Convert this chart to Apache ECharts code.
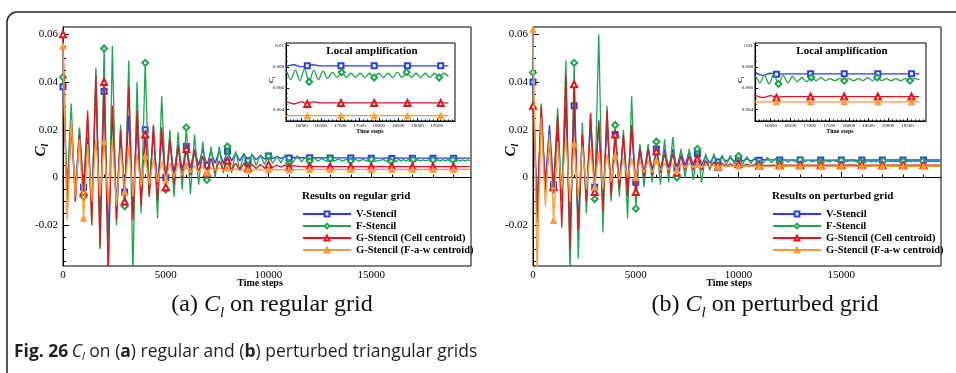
<!DOCTYPE html>
<html><head><meta charset="utf-8">
<script src="https://cdn.jsdelivr.net/npm/echarts@6/dist/echarts.min.js"></script>
<style>html,body{margin:0;padding:0;background:#fff}#c{width:956px;height:373px}</style>
</head><body><div id="c"></div>
<script>
// ---------- DATA ----------
const NAMES = ['V-Stencil', 'F-Stencil', 'G-Stencil (Cell centroid)', 'G-Stencil (F-a-w centroid)'];
// shared time steps of the oscillating start
const EARLY_T = [0,200,400,600,800,1000,1200,1400,1600,1800,2000,2200,2400,2600,2800,3000,3200,3400,3600,3800,4000,4200,4400,4600,4800,5000,5200,5400,5600,5800,6000,6200,6400,6600,6800,7000,7200,7400,7600,7800,8000,8200,8400,8600,8800,9000,9200,9400,9600,9800,10000,10200,10400,10600,10800,11000];
// regular grid (a)
const A_V_EARLY  = [0.038,-0.006,0.021,-0.005,0.020,-0.004,0.017,-0.012,0.040,-0.020,0.036,-0.025,0.030,-0.012,0.018,-0.006,0.026,-0.014,0.022,-0.008,0.020,-0.004,0.018,-0.003,0.017,0.000,0.015,0.002,0.014,0.003,0.013,0.004,0.012,0.005,0.012,0.005,0.011,0.006,0.011,0.006,0.011,0.007,0.010,0.007,0.010,0.007,0.0095,0.0075,0.0093,0.0078,0.0090,0.0080,0.0088,0.0080,0.0086,0.0082];
const A_F_EARLY  = [0.042,-0.004,0.031,-0.010,0.021,-0.008,0.025,-0.018,0.046,-0.030,0.054,-0.040,0.055,-0.020,0.022,-0.012,0.049,-0.040,0.040,-0.015,0.048,-0.008,0.022,-0.017,0.034,-0.005,0.020,-0.008,0.019,-0.005,0.021,-0.007,0.018,-0.003,0.015,-0.001,0.013,0.000,0.013,0.002,0.013,0.002,0.011,0.003,0.010,0.005,0.010,0.005,0.0095,0.0055,0.0090,0.0060,0.0090,0.0062,0.0095,0.0060];
const A_GC_EARLY = [0.060,-0.015,0.023,-0.010,0.018,-0.006,0.028,-0.020,0.043,-0.029,0.040,-0.040,0.030,-0.018,0.020,-0.010,0.038,-0.018,0.028,-0.012,0.018,-0.008,0.022,-0.010,0.021,-0.004,0.016,-0.003,0.013,0.000,0.012,0.001,0.011,0.002,0.009,0.002,0.008,0.002,0.007,0.003,0.007,0.003,0.006,0.003,0.006,0.004,0.0055,0.0038,0.0055,0.0040,0.0054,0.0042,0.0052,0.0043,0.0052,0.0044];
const A_GF_EARLY = [0.055,-0.018,0.024,-0.008,0.016,-0.017,0.014,-0.010,0.016,-0.008,0.015,-0.010,0.016,-0.012,0.012,-0.006,0.013,-0.008,0.010,-0.004,0.009,-0.003,0.008,-0.002,0.007,-0.001,0.006,0.000,0.006,0.001,0.005,0.002,0.005,0.002,0.005,0.002,0.004,0.003,0.004,0.003,0.004,0.003,0.0035,0.003,0.0034,0.0031,0.0033,0.0031,0.0033,0.0032,0.0033,0.0032,0.0033,0.0032,0.0032,0.0032];
// perturbed grid (b)
const B_V_EARLY  = [0.040,-0.012,0.026,-0.002,0.022,-0.003,0.019,-0.006,0.030,-0.025,0.030,-0.020,0.018,-0.008,0.022,-0.004,0.024,-0.010,0.022,-0.005,0.018,-0.002,0.017,-0.003,0.020,-0.002,0.013,0.002,0.013,0.003,0.012,0.003,0.012,0.004,0.012,0.004,0.011,0.005,0.011,0.005,0.010,0.005,0.009,0.006,0.009,0.0065,0.0085,0.0068,0.0082,0.0068,0.0080,0.0070,0.0078,0.0070,0.0077,0.0072];
const B_F_EARLY  = [0.044,-0.019,0.031,-0.006,0.016,-0.005,0.029,-0.010,0.049,-0.040,0.048,-0.034,0.023,-0.015,0.027,-0.009,0.060,-0.023,0.030,-0.010,0.022,-0.008,0.020,-0.017,0.034,-0.013,0.014,-0.004,0.014,-0.002,0.015,-0.003,0.016,-0.002,0.017,0.000,0.012,0.000,0.012,-0.001,0.012,-0.002,0.010,0.003,0.010,0.005,0.0095,0.005,0.0093,0.0055,0.009,0.0055,0.0088,0.0058,0.0085,0.0058];
const B_GC_EARLY = [0.030,-0.015,0.030,-0.005,0.014,-0.004,0.026,-0.021,0.043,-0.030,0.039,-0.022,0.018,-0.010,0.027,-0.006,0.023,-0.014,0.028,-0.008,0.018,-0.005,0.018,-0.008,0.022,-0.006,0.012,0.000,0.012,0.001,0.011,0.002,0.010,0.002,0.010,0.002,0.009,0.003,0.009,0.003,0.008,0.003,0.007,0.004,0.0065,0.0045,0.006,0.0045,0.0058,0.0046,0.0057,0.0047,0.0056,0.0048,0.0055,0.0049];
const B_GF_EARLY = [0.062,-0.040,0.025,-0.012,0.018,-0.018,0.015,-0.005,0.017,-0.010,0.014,-0.008,0.013,-0.005,0.012,-0.004,0.011,-0.005,0.010,-0.002,0.009,-0.001,0.008,0.000,0.008,0.000,0.007,0.002,0.007,0.002,0.007,0.003,0.006,0.003,0.006,0.003,0.006,0.004,0.006,0.004,0.0055,0.004,0.0052,0.0045,0.005,0.0045,0.0049,0.0046,0.0048,0.0046,0.0048,0.0047,0.0048,0.0047,0.0047,0.0047];
// late, nearly converged part (V and G stencils)
const LATE_T = [11200,11600,12000,13000,14000,15000,15600,15800,16000,16150,16300,16500,17000,17020,17880,18000,18740,19000,19600,19800];
const A_V_LATE  = [0.0084,0.0083,0.0083,0.0082,0.0082,0.0081,0.0081,0.0082,0.0080,0.0081,0.0082,0.0081,0.0081,0.0081,0.0081,0.0081,0.0081,0.0081,0.0081,0.0081];
const A_GC_LATE = [0.0050,0.0046,0.0047,0.0046,0.0046,0.0046,0.0047,0.0045,0.0047,0.0045,0.0047,0.0046,0.0046,0.0046,0.0046,0.0046,0.0046,0.0046,0.0046,0.0046];
const A_GF_LATE = [0.0033,0.0033,0.0034,0.0034,0.0034,0.0034,0.0034,0.0034,0.0034,0.0034,0.0034,0.0034,0.0034,0.0034,0.0034,0.0034,0.0034,0.0034,0.0034,0.0034];
const B_V_LATE  = [0.0075,0.0074,0.0074,0.0073,0.0073,0.0073,0.0074,0.0072,0.0074,0.0073,0.00735,0.00735,0.00735,0.00735,0.00735,0.00735,0.00735,0.00735,0.00735,0.00735];
const B_GC_LATE = [0.0050,0.0051,0.0052,0.0052,0.0052,0.0052,0.0053,0.0051,0.0053,0.0051,0.0052,0.0052,0.0052,0.0052,0.0052,0.0052,0.0052,0.0052,0.0052,0.0052];
const B_GF_LATE = [0.0047,0.0047,0.0047,0.0047,0.0047,0.0047,0.0047,0.0047,0.0047,0.0047,0.0047,0.0047,0.0047,0.0047,0.0047,0.0047,0.0047,0.0047,0.0047,0.0047];
// late part of F-Stencil (keeps a small oscillation)
const F_TAIL_T = [11200,11400,11600,11800,12000,12200,12400,12600,12800,13000,13200,13400,13600,13800,14000,14200,14400,14600,14800,15000,15200,15400,
  15600,15720,15840,15960,16080,16200,16320,16440,16560,16680,16800,16920,17040,17160,17280,17400,17520,17640,17760,17880,18000,18120,18240,18360,18480,18600,18720,18840,18960,19080,19200,19320,19440,19560,19680,19800];
const A_F_TAIL = [0.0065,0.0092,0.0066,0.0085,0.0068,0.0082,0.0068,0.0080,0.0068,0.0079,0.0069,0.0078,0.0069,0.0077,0.0069,0.0077,0.0069,0.0076,0.0069,0.0076,0.0069,0.0072,
  0.0075,0.0068,0.0077,0.0067,0.0078,0.0066,0.0077,0.0068,0.0076,0.0069,0.0075,0.0070,0.0075,0.0070,0.0074,0.0070,0.0074,0.0070,0.0074,0.0070,0.0074,0.0070,0.0074,0.0070,0.0075,0.0070,0.0075,0.0070,0.0074,0.0070,0.0074,0.0070,0.0074,0.0070,0.0074,0.0071];
const B_F_TAIL = [0.0060,0.0085,0.0062,0.0080,0.0063,0.0077,0.0064,0.0075,0.0064,0.0074,0.0065,0.0073,0.0065,0.0073,0.0065,0.0072,0.0066,0.0072,0.0066,0.0072,0.0066,0.0069,
  0.0071,0.0065,0.0072,0.0064,0.0073,0.0064,0.0072,0.0065,0.0071,0.0066,0.0070,0.0066,0.0070,0.0067,0.0070,0.0067,0.0069,0.0067,0.0069,0.0067,0.0069,0.0067,0.0069,0.0067,0.0070,0.0067,0.0070,0.0067,0.0069,0.0067,0.0069,0.0067,0.0069,0.0067,0.0069,0.0068];
// marker positions (time steps)
const MAIN_MARK_T  = [0,1000,2000,3000,4000,5000,6000,7000,8000,9000,10000,11000,12000,13000,14000,15000,16000,17000,18000,19000];
const INSET_MARK_T = [16150,17020,17880,18740,19600];
// ticks
const MAIN_X_TICKS = [0,5000,10000,15000];
const MAIN_X_MINOR = [1000,2000,3000,4000,6000,7000,8000,9000,11000,12000,13000,14000,16000,17000,18000,19000];
const MAIN_Y_TICKS = [-0.02,0,0.02,0.04,0.06];
const MAIN_Y_MINOR = [-0.035,-0.03,-0.025,-0.015,-0.01,-0.005,0.005,0.01,0.015,0.025,0.03,0.035,0.045,0.05,0.055];
const INSET_X_TICKS = [16000,16500,17000,17500,18000,18500,19000,19500];
const INSET_X_MINOR = [15700,15800,15900,16100,16200,16300,16400,16600,16700,16800,16900,17100,17200,17300,17400,17600,17700,17800,17900,18100,18200,18300,18400,18600,18700,18800,18900,19100,19200,19300,19400,19600,19700,19800,19900];
const INSET_Y_TICKS = [0.004,0.006,0.008,0.01];
const INSET_Y_MINOR = [0.0035,0.0045,0.005,0.0055,0.0065,0.007,0.0075,0.0085,0.009,0.0095];

// ---------- STYLE ----------
const COLORS = ['#2a3cf2','#1fa550','#e0141c','#ff9a3a'];
const SYMBOLS = ['emptyRect','emptyDiamond','emptyTriangle','triangle'];
const SYM_SIZE = [5,6,6,6];
const SERIF = 'Liberation Serif';

function nearestSet(ts, marks){
  const s = new Set();
  marks.forEach(m => { let bi=-1, bd=Infinity; ts.forEach((t,i)=>{const d=Math.abs(t-m); if(d<bd){bd=d;bi=i;}}); if(bd<=150) s.add(bi); });
  return s;
}
function build(ts, vs, marks){
  const s = nearestSet(ts, marks);
  return ts.map((t,i)=> s.has(i) ? {value:[t,vs[i]]} : {value:[t,vs[i]], symbol:'none'});
}
const PLOTS = [
  {ts:[EARLY_T.concat(LATE_T), EARLY_T.concat(F_TAIL_T), EARLY_T.concat(LATE_T), EARLY_T.concat(LATE_T)],
   vs:[A_V_EARLY.concat(A_V_LATE), A_F_EARLY.concat(A_F_TAIL), A_GC_EARLY.concat(A_GC_LATE), A_GF_EARLY.concat(A_GF_LATE)]},
  {ts:[EARLY_T.concat(LATE_T), EARLY_T.concat(F_TAIL_T), EARLY_T.concat(LATE_T), EARLY_T.concat(LATE_T)],
   vs:[B_V_EARLY.concat(B_V_LATE), B_F_EARLY.concat(B_F_TAIL), B_GC_EARLY.concat(B_GC_LATE), B_GF_EARLY.concat(B_GF_LATE)]}
];

const fmt = v => v === 0 ? '0' : String(+(+v).toFixed(4));
const fmtX = v => String(Math.round(v));
function mainAxes(grid){
  return {
    x: [{type:'value', gridIndex:grid, position:'bottom', min:0, max:19850,
          axisLine:{show:true, lineStyle:{color:'#000', width:1}}, splitLine:{show:false},
          axisTick:{show:true, inside:true, length:6, customValues:MAIN_X_TICKS, lineStyle:{color:'#000'}},
          axisLabel:{customValues:MAIN_X_TICKS, formatter:fmtX, fontFamily:SERIF, fontSize:11, color:'#000', margin:4}},
        {type:'value', gridIndex:grid, position:'bottom', min:0, max:19850, axisLine:{show:false}, splitLine:{show:false},
          axisTick:{show:true, inside:true, length:3, customValues:MAIN_X_MINOR, lineStyle:{color:'#000'}}, axisLabel:{show:false}}],
    y: [{type:'value', gridIndex:grid, position:'left', min:-0.037, max:0.063,
          axisLine:{show:true, lineStyle:{color:'#000', width:1}}, splitLine:{show:false},
          axisTick:{show:true, inside:true, length:6, customValues:MAIN_Y_TICKS, lineStyle:{color:'#000'}},
          axisLabel:{customValues:MAIN_Y_TICKS, formatter:fmt, fontFamily:SERIF, fontSize:11, color:'#000', margin:5}},
        {type:'value', gridIndex:grid, position:'left', min:-0.037, max:0.063, axisLine:{show:false}, splitLine:{show:false},
          axisTick:{show:true, inside:true, length:3, customValues:MAIN_Y_MINOR, lineStyle:{color:'#000'}}, axisLabel:{show:false}}]
  };
}
function insetAxes(grid){
  return {
    x: [{type:'value', gridIndex:grid, position:'bottom', min:15600, max:19970,
          axisLine:{show:true, lineStyle:{color:'#000', width:1}}, splitLine:{show:false},
          axisTick:{show:true, inside:true, length:3, customValues:INSET_X_TICKS, lineStyle:{color:'#000'}},
          axisLabel:{customValues:INSET_X_TICKS, formatter:fmtX, fontFamily:SERIF, fontSize:5, color:'#000', margin:2}},
        {type:'value', gridIndex:grid, position:'bottom', min:15600, max:19970, axisLine:{show:false}, splitLine:{show:false},
          axisTick:{show:true, inside:true, length:1.5, customValues:INSET_X_MINOR, lineStyle:{color:'#000'}}, axisLabel:{show:false}}],
    y: [{type:'value', gridIndex:grid, position:'left', min:0.0029, max:0.01025,
          axisLine:{show:true, lineStyle:{color:'#000', width:1}}, splitLine:{show:false},
          axisTick:{show:true, inside:true, length:3, customValues:INSET_Y_TICKS, lineStyle:{color:'#000'}},
          axisLabel:{customValues:INSET_Y_TICKS, formatter:fmt, fontFamily:SERIF, fontSize:5, color:'#000', margin:2}},
        {type:'value', gridIndex:grid, position:'left', min:0.0029, max:0.01025, axisLine:{show:false}, splitLine:{show:false},
          axisTick:{show:true, inside:true, length:1.5, customValues:INSET_Y_MINOR, lineStyle:{color:'#000'}}, axisLabel:{show:false}}]
  };
}
const axesList = [mainAxes(0), mainAxes(1), insetAxes(2), insetAxes(3)];
const xAxis = [], yAxis = [];
axesList.forEach(a => { xAxis.push(...a.x); yAxis.push(...a.y); });

const series = [];
[0,1].forEach(p => {
  for (let k=0;k<4;k++){
    series.push({type:'line', name:NAMES[k], xAxisIndex:p*2, yAxisIndex:p*2,
      data: build(PLOTS[p].ts[k], PLOTS[p].vs[k], MAIN_MARK_T),
      symbol:SYMBOLS[k], symbolSize:SYM_SIZE[k], showAllSymbol:true, clip:true,
      lineStyle:{color:COLORS[k], width:1.3}, itemStyle:{color:COLORS[k], borderColor:COLORS[k], borderWidth:1},
      emphasis:{disabled:true}, animation:false, z:2+k});
  }
});
[0,1].forEach(p => {
  for (let k=0;k<4;k++){
    series.push({type:'line', name:NAMES[k], xAxisIndex:4+p*2, yAxisIndex:4+p*2,
      data: build(PLOTS[p].ts[k], PLOTS[p].vs[k], INSET_MARK_T),
      symbol:SYMBOLS[k], symbolSize:SYM_SIZE[k], showAllSymbol:true, clip:true, smooth:0.35,
      lineStyle:{color:COLORS[k], width:1.3}, itemStyle:{color:COLORS[k], borderColor:COLORS[k], borderWidth:1},
      emphasis:{disabled:true}, animation:false, z:10+k});
  }
});

const legendBase = {data:NAMES, orient:'vertical', itemWidth:48, itemHeight:6, itemGap:0, padding:0, selectedMode:false,
  textStyle:{fontFamily:SERIF, fontWeight:'bold', fontSize:10.5, lineHeight:12, color:'#000'}};

function txt(x, y, text, opt){
  return Object.assign({type:'text', x:x, y:y, silent:true, z:50,
    style:Object.assign({text:text, fill:'#000', font:'bold 10px "Liberation Serif"', textAlign:'center', textVerticalAlign:'middle'}, opt||{})});
}
function clLabel(x, y, big, small){
  return {type:'text', x:x, y:y, rotation:Math.PI/2, silent:true, z:50,
    style:{text:'{c|C}{s|l}', textAlign:'center', textVerticalAlign:'middle',
      rich:{c:{fontFamily:SERIF, fontStyle:'italic', fontWeight:'bold', fontSize:big, fill:'#000'},
            s:{fontFamily:SERIF, fontStyle:'italic', fontWeight:'bold', fontSize:small, fill:'#000', padding:[small*0.9,0,0,0]}}}};
}
function caption(x, y, pre, post){
  return {type:'text', x:x, y:y, silent:true, z:50,
    style:{text:'{n|'+pre+'}{c|C}{s|l}{n|'+post+'}', textAlign:'center', textVerticalAlign:'middle',
      rich:{n:{fontFamily:SERIF, fontSize:24, fill:'#111'},
            c:{fontFamily:SERIF, fontStyle:'italic', fontSize:24, fill:'#111'},
            s:{fontFamily:SERIF, fontStyle:'italic', fontSize:15, fill:'#111', padding:[16,0,0,0]}}}};
}

const option = {
  backgroundColor:'#fff',
  animation:false,
  grid:[
    {left:63, top:27, width:408, height:239, show:true, borderColor:'#000', borderWidth:1, backgroundColor:'transparent'},
    {left:533, top:27, width:408, height:239, show:true, borderColor:'#000', borderWidth:1, backgroundColor:'transparent'},
    {left:286, top:43, width:169, height:78, show:true, borderColor:'#000', borderWidth:1, backgroundColor:'#fff'},
    {left:755, top:43, width:171, height:78, show:true, borderColor:'#000', borderWidth:1, backgroundColor:'#fff'}
  ],
  xAxis:xAxis, yAxis:yAxis, series:series,
  legend:[Object.assign({left:302, top:208}, legendBase), Object.assign({left:772, top:208}, legendBase)],
  graphic:[
    {type:'rect', silent:true, z:0, shape:{x:7, y:12, width:1100, height:500, r:[10,0,0,0]}, style:{fill:'none', stroke:'#222', lineWidth:1.5}},
    txt(302, 196, 'Results on regular grid', {textAlign:'left', font:'bold 11px "Liberation Serif"'}),
    txt(772, 196, 'Results on perturbed grid', {textAlign:'left', font:'bold 11px "Liberation Serif"'}),
    txt(372, 51, 'Local amplification', {font:'bold 11px "Liberation Serif"'}),
    txt(842, 51, 'Local amplification', {font:'bold 11px "Liberation Serif"'}),
    txt(370, 131, 'Time steps', {font:'bold 6px "Liberation Serif"'}),
    txt(840, 131, 'Time steps', {font:'bold 6px "Liberation Serif"'}),
    txt(260, 283, 'Time steps', {font:'bold 10px "Liberation Serif"'}),
    txt(729, 283, 'Time steps', {font:'bold 10px "Liberation Serif"'}),
    clLabel(41, 150, 15, 10), clLabel(511, 150, 15, 10),
    clLabel(271, 80, 7, 5), clLabel(740, 80, 7, 5),
    caption(272, 305, '(a) ', ' on regular grid'),
    caption(765, 305, '(b) ', ' on perturbed grid'),
    {type:'text', x:14, y:352, silent:true, z:50,
     style:{text:'{b|Fig. 26} {i|C}{s|l}{n| on (}{b|a}{n|) regular and (}{b|b}{n|) perturbed triangular grids}', textAlign:'left', textVerticalAlign:'middle',
       rich:{b:{fontFamily:'Open Sans', fontWeight:'bold', fontSize:17.5, fill:'#231f20'},
             n:{fontFamily:'Open Sans', fontSize:17.5, fill:'#231f20'},
             i:{fontFamily:'Open Sans', fontStyle:'italic', fontSize:17.5, fill:'#231f20'},
             s:{fontFamily:'Open Sans', fontStyle:'italic', fontSize:11, fill:'#231f20', padding:[9,0,0,0]}}}}
  ]
};
const chart = echarts.init(document.getElementById('c'), null, {renderer:'canvas'});
chart.setOption(option);
</script></body></html>
